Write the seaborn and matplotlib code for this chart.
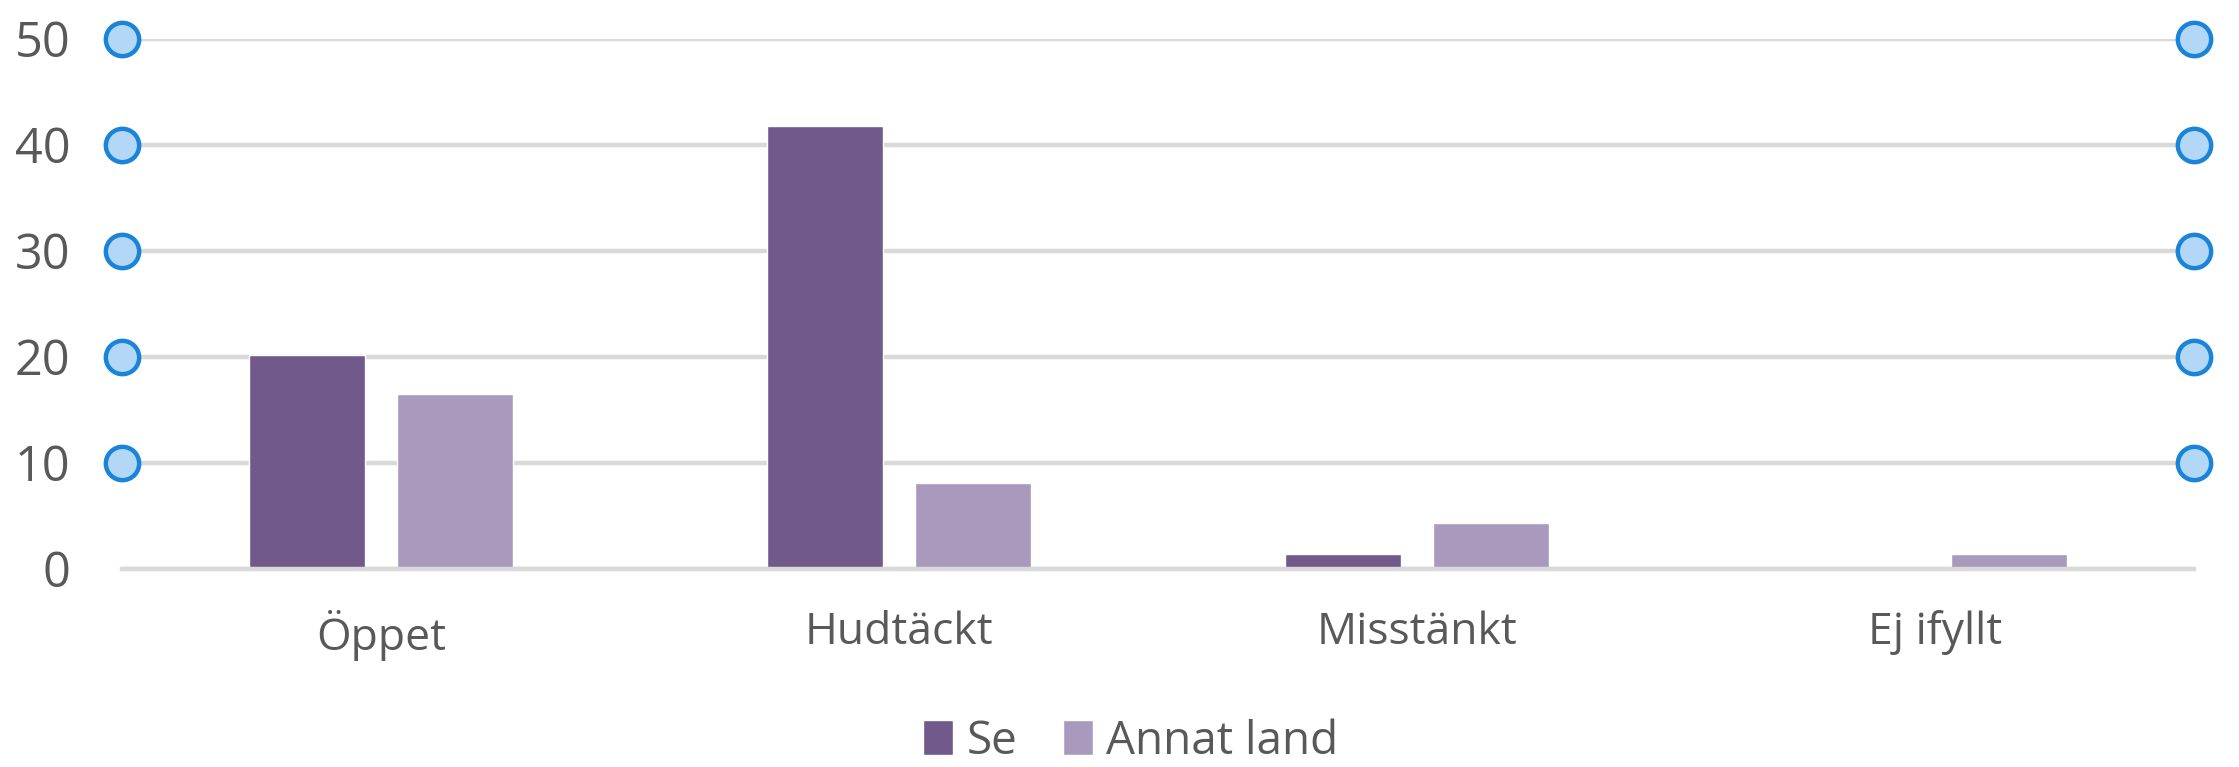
import matplotlib
matplotlib.use("Agg")
import matplotlib.pyplot as plt
import seaborn as sns
import pandas as pd

categories = ["Öppet", "Hudtäckt", "Misstänkt", "Ej ifyllt"]
series_names = ["Se", "Annat land"]
se_values = [20.1, 41.8, 1.4, 0.0]
annat_values = [16.5, 8.1, 4.3, 1.4]
y_ticks = [0, 10, 20, 30, 40, 50]

colors = ["#71598c", "#a99abd"]
text_color = "#595959"
grid_color = "#d9d9d9"

df = pd.DataFrame({
    "kategori": categories * 2,
    "serie": [series_names[0]] * len(categories) + [series_names[1]] * len(categories),
    "värde": se_values + annat_values,
})

sns.set_theme(style="white")
plt.rcParams["font.family"] = ["Open Sans", "DejaVu Sans"]

fig = plt.figure(figsize=(22.39, 7.67), dpi=100)
ax = fig.add_axes([122 / 2239, 1 - 568.5 / 767, (2194 - 122) / 2239, (568.5 - 38.6) / 767])

sns.barplot(data=df, x="kategori", y="värde", hue="serie", hue_order=series_names,
            order=categories, palette=colors, width=0.568, gap=0.211,
            saturation=1, ax=ax, legend=True)

ax.set_ylim(0, 50)
ax.set_xlim(-0.5, len(categories) - 0.5)
ax.set_yticks(y_ticks)
ax.set_xlabel("")
ax.set_ylabel("")
ax.yaxis.grid(True, color=grid_color, linewidth=3.2)
ax.set_axisbelow(True)
for s in ["top", "right", "left"]:
    ax.spines[s].set_visible(False)
ax.spines["bottom"].set_color(grid_color)
ax.spines["bottom"].set_linewidth(3.2)
ax.tick_params(axis="y", length=0, pad=37, labelsize=35, labelcolor=text_color)
ax.tick_params(axis="x", length=0, pad=30, labelsize=32, labelcolor=text_color)

# selection handles on gridlines
handle_y = [t for t in y_ticks if t > 0]
xl = ax.get_xlim()
for xv in xl:
    ax.scatter([xv] * len(handle_y), handle_y, s=24 ** 2, facecolor="#b3d7f7",
               edgecolor="#1a84d8", linewidth=3.2, clip_on=False, zorder=5)

leg = ax.get_legend()
handles = leg.legend_handles
labels = [t.get_text() for t in leg.get_texts()]
leg.remove()
fig.legend(handles, labels, loc="lower center", bbox_to_anchor=(0.505, -0.033),
           ncol=2, frameon=False, fontsize=33, labelcolor=text_color,
           handlelength=0.65, handleheight=0.8, handletextpad=0.3,
           columnspacing=1.0, borderpad=0.1)

fig.savefig("out.png", dpi=100)
